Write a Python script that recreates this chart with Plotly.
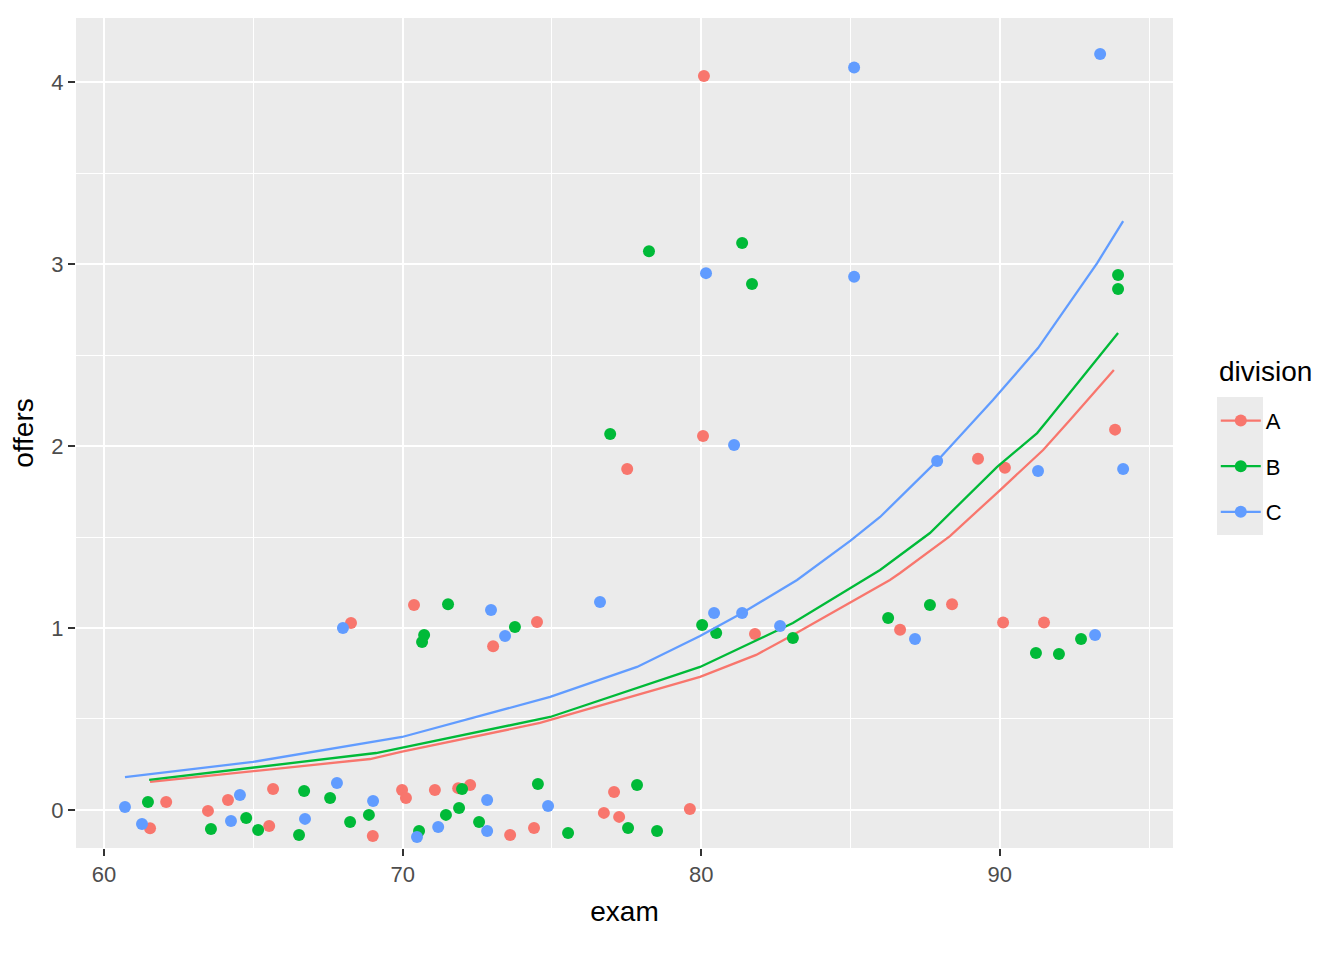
import plotly.graph_objects as go

# observed points (jittered counts), per division
exam_a = [61.54, 62.08, 63.48, 64.15, 65.53, 65.66, 68.27, 69.0, 69.98, 70.11, 70.38, 71.08,
          71.86, 72.26, 73.03, 73.6, 74.4, 74.5, 76.74, 77.08, 77.25, 77.52, 79.62, 80.06,
          80.09, 81.8, 86.66, 88.4, 89.27, 90.17, 90.11, 91.48, 93.86]
offers_a = [-0.10, 0.044, -0.005, 0.055, -0.088, 0.115, 1.027, -0.143, 0.11, 0.066, 1.126, 0.11,
            0.12, 0.137, 0.90, -0.137, -0.099, 1.033, -0.016, 0.099, -0.038, 1.874, 0.005, 2.055,
            4.033, 0.967, 0.99, 1.13, 1.93, 1.88, 1.03, 1.03, 2.09]

exam_b = [61.47, 63.58, 64.76, 65.16, 66.53, 66.7, 67.57, 68.24, 68.87, 70.55, 70.65, 70.72,
          71.52, 71.45, 71.89, 71.99, 72.56, 73.76, 74.53, 75.54, 76.95, 77.55, 77.85, 78.25,
          78.52, 80.03, 80.5, 81.37, 81.7, 83.07, 86.26, 87.66, 91.21, 91.98, 92.72, 93.96, 93.96]
offers_b = [0.044, -0.104, -0.044, -0.11, -0.137, 0.104, 0.066, -0.066, -0.027, -0.115, 0.923, 0.962,
            1.13, -0.027, 0.011, 0.115, -0.066, 1.005, 0.143, -0.126, 2.066, -0.099, 0.137, 3.07,
            -0.115, 1.016, 0.972, 3.115, 2.89, 0.945, 1.055, 1.126, 0.863, 0.857, 0.94, 2.94, 2.863]

exam_c = [60.7, 61.27, 64.25, 64.55, 66.73, 67.8, 68.0, 69.01, 70.48, 71.19, 72.83, 72.83,
          72.96, 73.43, 74.87, 76.61, 80.16, 80.43, 81.1, 81.37, 82.64, 85.12, 85.12, 87.16,
          87.9, 91.28, 93.19, 93.36, 94.13]
offers_c = [0.016, -0.077, -0.06, 0.082, -0.049, 0.148, 1.0, 0.049, -0.148, -0.093, 0.055, -0.115,
            1.099, 0.956, 0.022, 1.143, 2.95, 1.082, 2.005, 1.082, 1.011, 4.08, 2.93, 0.94,
            1.918, 1.863, 0.962, 4.154, 1.874]

# fitted curves
fit_exam_a = [61.54, 68.91, 69.98, 74.6, 79.96, 81.84, 83.07, 86.32, 86.66, 88.33, 90.01, 91.45, 92.35, 93.82]
fit_offers_a = [0.154, 0.28, 0.32, 0.478, 0.731, 0.852, 0.962, 1.264, 1.302, 1.505, 1.758, 1.978, 2.143, 2.418]

fit_exam_b = [61.51, 69.11, 74.94, 79.96, 83.07, 85.99, 87.66, 89.91, 91.25, 91.61, 93.96]
fit_offers_b = [0.165, 0.313, 0.511, 0.786, 1.027, 1.319, 1.522, 1.885, 2.071, 2.143, 2.621]

fit_exam_c = [60.7, 64.99, 69.98, 74.94, 77.85, 79.96, 81.37, 83.21, 85.0, 85.99, 87.9, 89.77, 91.28, 93.26, 94.13]
fit_offers_c = [0.181, 0.264, 0.401, 0.621, 0.786, 0.956, 1.082, 1.264, 1.48, 1.61, 1.918, 2.253, 2.538, 3.005, 3.236]

divisions = ["A", "B", "C"]
colors = ["#F8766D", "#00BA38", "#619CFF"]

series = [
    (exam_a, offers_a, fit_exam_a, fit_offers_a),
    (exam_b, offers_b, fit_exam_b, fit_offers_b),
    (exam_c, offers_c, fit_exam_c, fit_offers_c),
]

fig = go.Figure()
for name, col, (ex, of, fx, fy) in zip(divisions, colors, series):
    fig.add_trace(go.Scatter(x=ex, y=of, mode="markers", marker=dict(color=col, size=12),
                             showlegend=False, legendgroup=name))
    fig.add_trace(go.Scatter(x=fx, y=fy, mode="lines", line=dict(color=col, width=2.3),
                             showlegend=False, legendgroup=name))
    # legend-only entry (line + point, like the ggplot key)
    fig.add_trace(go.Scatter(x=[None], y=[None], mode="lines+markers", name=name,
                             legendgroup=name,
                             marker=dict(color=col, size=12), line=dict(color=col, width=2.3)))

font = "Liberation Sans, Arial, Helvetica, sans-serif"
axis_common = dict(
    showgrid=True, gridcolor="white", gridwidth=2.4, zeroline=False, showline=False,
    ticks="outside", ticklen=7, tickwidth=2, tickcolor="#333333",
    tickfont=dict(size=22, color="#4D4D4D", family=font),
    minor=dict(showgrid=True, gridcolor="white", gridwidth=1.2),
)

fig.update_xaxes(range=[59.06, 95.8], tickvals=[60, 70, 80, 90], minor_dtick=5, minor_tick0=55,
                 title=dict(text="exam", font=dict(size=28, color="black", family=font), standoff=14),
                 **axis_common)
fig.update_yaxes(range=[-0.209, 4.352], tickvals=[0, 1, 2, 3, 4], minor_dtick=0.5, minor_tick0=0.5,
                 title=dict(text="offers", font=dict(size=28, color="black", family=font), standoff=14),
                 **axis_common)

# panel spans 68..1165 x 10..840 in figure pixels (page adds an 8px body margin)
pw, ph = 1097, 830

fig.update_layout(
    width=1344, height=960,
    margin=dict(l=68, r=179, t=10, b=120),
    paper_bgcolor="white", plot_bgcolor="#EBEBEB",
    font=dict(family=font),
    showlegend=True,
    legend=dict(
        font=dict(size=22, color="black", family=font),
        x=1.039, xanchor="left", y=0.54, yanchor="top",
        bgcolor="rgba(0,0,0,0)", tracegroupgap=14, itemwidth=40,
    ),
    annotations=[dict(text="division", xref="paper", yref="paper", showarrow=False,
                      x=(1217 - 76) / pw, y=(848 - 371) / ph, xanchor="left", yanchor="middle",
                      font=dict(size=28, color="black", family=font))],
    shapes=[dict(type="rect", xref="paper", yref="paper", layer="below",
                 x0=(1217 - 76) / pw, x1=(1263 - 76) / pw,
                 y0=(848 - 535) / ph, y1=(848 - 397) / ph,
                 fillcolor="#EBEBEB", line=dict(width=0))],
)

fig.write_html("out.html")
